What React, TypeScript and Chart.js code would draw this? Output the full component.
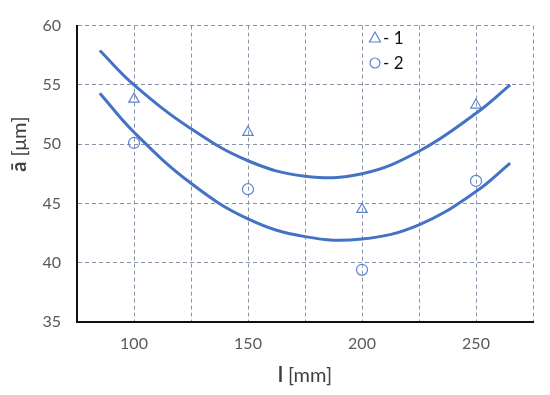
import React, { useEffect, useRef } from "react";
import { Chart, registerables } from "chart.js";

Chart.register(...registerables);

const pointX = [100, 150, 200, 250];
const series1 = [53.8, 51.0, 44.5, 53.3];
const series2 = [50.1, 46.2, 39.4, 46.9];

const curveX = [85, 100, 125, 150, 175, 200, 225, 250, 265];
const curve1 = [57.9, 55.0, 51.3, 48.6, 47.3, 47.5, 49.4, 52.6, 55.0];
const curve2 = [54.3, 51.0, 46.7, 43.7, 42.2, 42.0, 43.2, 46.0, 48.4];

const legendLabels = ["- 1", "- 2"];
const xTitleBold = "l";
const xTitleRest = " [mm]";
const yTitleBold = "ā";
const yTitleRest = " [μm]";

const BLUE = "#4472C4";
const MARK = "#5B82D0";
const FONT = "Lato, 'Open Sans', sans-serif";

const overlayPlugin = {
  id: "overlay",
  afterDraw(chart: any) {
    const ctx = chart.ctx;
    ctx.save();
    // legend
    const lx = 375;
    const ly = [38, 63];
    ctx.strokeStyle = MARK;
    ctx.lineWidth = 1.2;
    // triangle
    ctx.beginPath();
    ctx.moveTo(lx, ly[0] - 6);
    ctx.lineTo(lx + 5.5, ly[0] + 4);
    ctx.lineTo(lx - 5.5, ly[0] + 4);
    ctx.closePath();
    ctx.stroke();
    // circle
    ctx.beginPath();
    ctx.arc(lx, ly[1], 5, 0, Math.PI * 2);
    ctx.stroke();
    ctx.fillStyle = "#111";
    ctx.font = `17px ${FONT}`;
    ctx.textBaseline = "middle";
    ctx.textAlign = "left";
    ctx.fillText(legendLabels[0], 383, ly[0] + 1);
    ctx.fillText(legendLabels[1], 383, ly[1] + 1);

    // x title
    const ca = chart.chartArea;
    const cx = (ca.left + ca.right) / 2;
    ctx.fillStyle = "#404040";
    ctx.font = `bold 20px ${FONT}`;
    const wb = ctx.measureText(xTitleBold).width;
    ctx.font = `20px ${FONT}`;
    const wr = ctx.measureText(xTitleRest).width;
    let sx = cx - (wb + wr) / 2;
    ctx.textAlign = "left";
    ctx.font = `bold 20px ${FONT}`;
    ctx.fillText(xTitleBold, sx, 376);
    ctx.font = `20px ${FONT}`;
    ctx.fillText(xTitleRest, sx + wb, 376);

    // y title
    ctx.translate(20, 144);
    ctx.rotate(-Math.PI / 2);
    ctx.font = `bold 20px ${FONT}`;
    const yb = ctx.measureText(yTitleBold).width;
    ctx.font = `20px ${FONT}`;
    const yr = ctx.measureText(yTitleRest).width;
    sx = -(yb + yr) / 2;
    ctx.font = `bold 20px ${FONT}`;
    ctx.fillText(yTitleBold, sx, 0);
    ctx.font = `20px ${FONT}`;
    ctx.fillText(yTitleRest, sx + yb, 0);
    ctx.restore();
  },
};

export default function App() {
  const ref = useRef<HTMLCanvasElement>(null);
  useEffect(() => {
    document.body.style.margin = "0";
    const canvas = ref.current!;
    const chart = new Chart(canvas, {
      type: "scatter",
      data: {
        datasets: [
          {
            label: "curve1",
            data: curveX.map((x, i) => ({ x, y: curve1[i] })),
            showLine: true,
            borderColor: BLUE,
            borderWidth: 3,
            pointRadius: 0,
            tension: 0.4,
          },
          {
            label: "curve2",
            data: curveX.map((x, i) => ({ x, y: curve2[i] })),
            showLine: true,
            borderColor: BLUE,
            borderWidth: 3,
            pointRadius: 0,
            tension: 0.4,
          },
          {
            label: "1",
            data: pointX.map((x, i) => ({ x, y: series1[i] })),
            pointStyle: "triangle",
            pointRadius: 6,
            borderColor: MARK,
            backgroundColor: "rgba(255,255,255,0)",
            borderWidth: 1.2,
          },
          {
            label: "2",
            data: pointX.map((x, i) => ({ x, y: series2[i] })),
            pointStyle: "circle",
            pointRadius: 5.5,
            borderColor: MARK,
            backgroundColor: "rgba(255,255,255,0)",
            borderWidth: 1.2,
          },
        ],
      },
      options: {
        animation: false,
        responsive: false,
        layout: { padding: { top: 19, right: 17, left: 0, bottom: 0 } },
        plugins: { legend: { display: false }, tooltip: { enabled: false } },
        scales: {
          x: {
            type: "linear",
            min: 75,
            max: 275,
            ticks: {
              stepSize: 25,
              padding: 12,
              color: "#595959",
              font: { family: FONT, size: 16 },
              callback: (v: any) => (Number(v) % 50 === 0 ? String(v) : ""),
              autoSkip: false,
              maxRotation: 0,
            },
            grid: { color: "#8a93a8", lineWidth: 1, drawTicks: false },
            border: { display: true, color: "#111", width: 2, dash: [4, 3] },
            afterFit: (s: any) => {
              s.height = 73;
            },
          },
          y: {
            type: "linear",
            min: 35,
            max: 60,
            ticks: {
              stepSize: 5,
              padding: 16,
              color: "#595959",
              font: { family: FONT, size: 16 },
            },
            grid: { color: "#8a93a8", lineWidth: 1, drawTicks: false },
            border: { display: true, color: "#111", width: 2, dash: [4, 3] },
            afterFit: (s: any) => {
              s.width = 77;
            },
          },
        },
      },
      plugins: [overlayPlugin],
    } as any);
    return () => chart.destroy();
  }, []);
  return (
    <div style={{ position: "fixed", left: 0, top: 0, width: 550, height: 395 }}>
      <canvas ref={ref} width={550} height={395} />
    </div>
  );
}
